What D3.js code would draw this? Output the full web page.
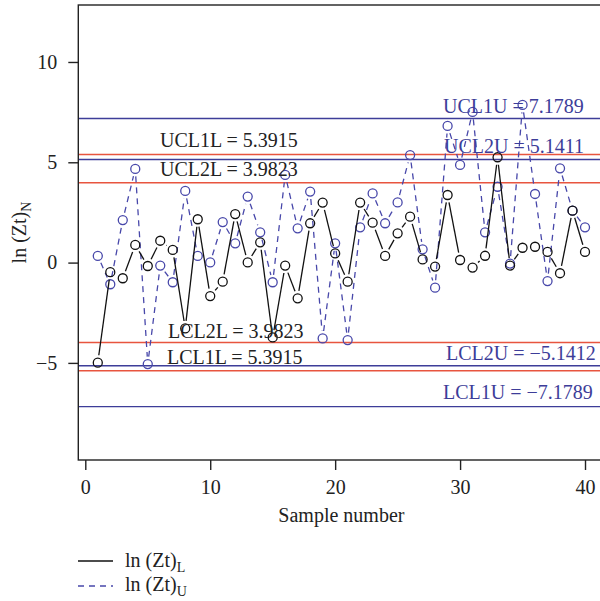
<!DOCTYPE html>
<html><head><meta charset="utf-8">
<script src="https://cdn.jsdelivr.net/npm/d3@7"></script>
<style>body{margin:0;background:#fff}svg{display:block}text{font-family:"Liberation Serif",serif}</style>
</head><body><svg id="c" width="600" height="601"></svg>
<script>
const samples = [1,2,3,4,5,6,7,8,9,10,11,12,13,14,15,16,17,18,19,20,21,22,23,24,25,26,27,28,29,30,31,32,33,34,35,36,37,38,39,40];
const lnZtL = [-4.99,-0.48,-0.78,0.88,-0.17,1.09,0.63,-3.28,2.16,-1.67,
  -0.95,2.42,0.01,1.01,-3.73,-0.15,-1.78,1.96,2.99,0.46,
  -0.95,2.99,1.99,0.33,1.46,2.29,0.16,-0.20,3.37,0.13,
  -0.25,0.34,5.25,-0.15,0.74,0.79,0.53,-0.53,2.59,0.53];
const lnZtU = [0.33,-1.08,2.12,4.67,-5.06,-0.15,-0.98,3.57,0.33,0.01,
  2.02,0.96,3.29,1.51,-0.98,4.37,1.71,3.54,-3.78,0.96,
  -3.86,1.76,3.45,1.96,3.00,5.36,0.66,-1.25,6.81,4.87,
  7.51,1.51,3.78,-0.05,7.86,3.42,-0.92,4.70,2.59,1.76];
const limitsL = [5.3915, 3.9823, -3.9823, -5.3915];
const limitsU = [7.1789, 5.1411, -5.1412, -7.1789];
const limitLabelsL = ["UCL1L = 5.3915","UCL2L = 3.9823","LCL2L = 3.9823","LCL1L = 5.3915"];
const limitLabelsU = ["UCL1U = 7.1789","UCL2U = 5.1411","LCL2U = \u22125.1412","LCL1U = \u22127.1789"];
const xTicks = [0,10,20,30,40];
const yTicks = [-5,0,5,10];

const RED = "#e8553f", BLUE = "#3d3d99", PTBLUE = "#4848aa", BLACK = "#111";
const svg = d3.select("#c");
const L = 78.3, R = 604.5, T = 5, B = 460;
const x = d3.scaleLinear().domain([-0.56, 41.56]).range([L, R]);
const y = d3.scaleLinear().domain([-9.84, 12.84]).range([B, T]);

svg.append("defs").append("clipPath").attr("id","clip").append("rect")
  .attr("x",L).attr("y",T).attr("width",R-L).attr("height",B-T);
const plot = svg.append("g").attr("clip-path","url(#clip)");

// control limit lines
plot.selectAll(".limL").data(limitsL).enter().append("line")
  .attr("x1",L).attr("x2",R).attr("y1",d=>y(d)).attr("y2",d=>y(d))
  .attr("stroke",RED).attr("stroke-width",1.4);
plot.selectAll(".limU").data(limitsU).enter().append("line")
  .attr("x1",L).attr("x2",R).attr("y1",d=>y(d)).attr("y2",d=>y(d))
  .attr("stroke",BLUE).attr("stroke-width",1.4);

// series drawn R type="b": segments with gaps around points
function series(vals, color, dash, ptColor){
  const pts = samples.map((s,i)=>[x(s), y(vals[i])]);
  const g = plot.append("g");
  const gap = 7.5;
  for(let i=0;i<pts.length-1;i++){
    const [x1,y1]=pts[i],[x2,y2]=pts[i+1];
    const dx=x2-x1, dy=y2-y1, len=Math.hypot(dx,dy);
    if(len<=2*gap) continue;
    const ux=dx/len, uy=dy/len;
    g.append("line").attr("x1",x1+ux*gap).attr("y1",y1+uy*gap)
      .attr("x2",x2-ux*gap).attr("y2",y2-uy*gap)
      .attr("stroke",color).attr("stroke-width",1.3)
      .attr("stroke-dasharray",dash||null);
  }
  g.selectAll("circle").data(pts).enter().append("circle")
    .attr("cx",d=>d[0]).attr("cy",d=>d[1]).attr("r",4.5)
    .attr("fill","none").attr("stroke",ptColor).attr("stroke-width",1.3);
}
series(lnZtU, PTBLUE, "6,5", PTBLUE);
series(lnZtL, BLACK, null, BLACK);

// limit labels
const lblPosL = [[160,147],[160,176],[168,338],[167,364]];
const lblPosU = [[443,113],[444,153],[446,360],[443,399]];
limitLabelsL.forEach((t,i)=>svg.append("text").attr("x",lblPosL[i][0]).attr("y",lblPosL[i][1])
  .attr("font-size",20).attr("fill","#222").text(t));
limitLabelsU.forEach((t,i)=>svg.append("text").attr("x",lblPosU[i][0]).attr("y",lblPosU[i][1])
  .attr("font-size",20).attr("fill",BLUE).text(t));

// box
svg.append("rect").attr("x",L).attr("y",T).attr("width",R-L).attr("height",B-T)
  .attr("fill","none").attr("stroke","#222").attr("stroke-width",1.4);

// axes
const ax = svg.append("g").attr("transform",`translate(0,${B})`)
  .call(d3.axisBottom(x).tickValues(xTicks).tickSize(10).tickPadding(10).tickFormat(d3.format("d")));
const ay = svg.append("g").attr("transform",`translate(${L},0)`)
  .call(d3.axisLeft(y).tickValues(yTicks).tickSize(10).tickPadding(11).tickFormat(d=>d<0?"\u2212"+Math.abs(d):d));
[ax,ay].forEach(a=>{
  a.select(".domain").remove();
  a.selectAll(".tick line").attr("stroke","#222").attr("stroke-width",1.4);
  a.selectAll(".tick text").attr("font-size",20).attr("fill","#222").attr("font-family","Liberation Serif, serif");
});

// axis titles
svg.append("text").attr("x",(L+R)/2).attr("y",522).attr("text-anchor","middle")
  .attr("font-size",20).attr("fill","#222").text("Sample number");
const yt = svg.append("text").attr("transform",`translate(26,${(T+B)/2}) rotate(-90)`)
  .attr("text-anchor","middle").attr("font-size",20).attr("fill","#222");
yt.append("tspan").text("ln (Zt)");
yt.append("tspan").attr("font-size",14).attr("dy",5).text("N");

// legend
svg.append("line").attr("x1",78).attr("x2",113).attr("y1",561).attr("y2",561)
  .attr("stroke",BLACK).attr("stroke-width",1.3);
svg.append("line").attr("x1",78).attr("x2",113).attr("y1",586).attr("y2",586)
  .attr("stroke",PTBLUE).attr("stroke-width",1.3).attr("stroke-dasharray","6,5");
const lg1 = svg.append("text").attr("x",125).attr("y",567).attr("font-size",20).attr("fill","#222");
lg1.append("tspan").text("ln (Zt)");
lg1.append("tspan").attr("font-size",14).attr("dy",5).text("L");
const lg2 = svg.append("text").attr("x",125).attr("y",591).attr("font-size",20).attr("fill","#222");
lg2.append("tspan").text("ln (Zt)");
lg2.append("tspan").attr("font-size",14).attr("dy",5).text("U");
</script></body></html>
